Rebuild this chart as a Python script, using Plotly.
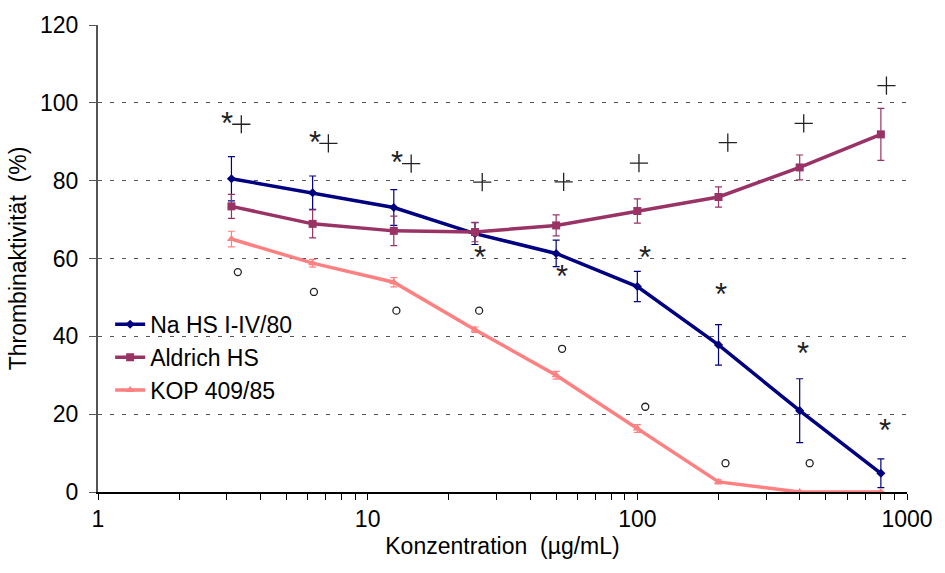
import math
import plotly.graph_objects as go

# Concentrations (µg/mL)
conc = [3.125, 6.25, 12.5, 25, 50, 100, 200, 400, 800]

# Thrombin activity (%) with standard deviations
na_hs = [80.5, 76.9, 73.1, 66.4, 61.3, 52.8, 37.8, 20.9, 4.8]
na_hs_sd = [5.7, 4.3, 4.6, 2.8, 3.4, 3.9, 5.2, 8.2, 3.7]

aldrich = [73.4, 68.9, 67.1, 66.8, 68.5, 72.2, 75.8, 83.4, 91.9]
aldrich_sd = [3.1, 3.6, 3.8, 2.5, 2.7, 3.1, 2.6, 3.2, 6.7]

kop = [65.0, 58.8, 53.9, 41.7, 30.0, 16.3, 2.6, 0.0, 0.0]
kop_sd = [2.0, 1.0, 1.2, 0.7, 1.0, 1.0, 0.5, 0.0, 0.0]

# Significance marks: (concentration, activity level)
star_x = [3.0, 6.36, 12.85, 26.0, 52.6, 106.4, 203.5, 411.6, 832]
star_y = [95.4, 90.5, 85.4, 61.0, 56.2, 61.0, 51.4, 36.4, 16.7]

plus_x = [3.40, 7.15, 14.5, 26.6, 53.3, 101.4, 216.5, 414, 839]
plus_y = [94.5, 89.6, 84.4, 79.6, 79.7, 84.5, 89.8, 94.7, 104.4]

circ_x = [3.30, 6.32, 12.78, 25.9, 52.6, 107, 212.3, 435.6]
circ_y = [56.5, 51.4, 46.6, 46.6, 36.8, 21.9, 7.4, 7.4]

# Log-axis ticks: labelled decades plus unlabelled 2..9 subdivisions
major_ticks = [1, 10, 100, 1000]
minor_ticks = [m * d for d in (1, 10, 100) for m in range(2, 10)]
all_ticks = sorted(major_ticks + minor_ticks)
all_labels = [str(t) if t in major_ticks else "" for t in all_ticks]

FONT = "Liberation Sans, Arial, sans-serif"
MARK = "#222222"

fig = go.Figure()

series = [
    ("Na HS I-IV/80", na_hs, na_hs_sd, "#000080", "diamond", 7),
    ("Aldrich HS", aldrich, aldrich_sd, "#993366", "square", 8),
    ("KOP 409/85", kop, kop_sd, "#FF8080", "triangle-up", 8),
]
for name, vals, sd, color, sym, msize in series:
    fig.add_trace(go.Scatter(
        x=conc, y=vals, name=name, mode="lines+markers",
        line=dict(color=color, width=3.5),
        marker=dict(symbol=sym, size=msize, color=color),
        error_y=dict(type="data", array=sd, visible=True,
                     color=color, thickness=1.2, width=3.5),
    ))

fig.add_trace(go.Scatter(
    x=plus_x, y=plus_y, mode="markers", showlegend=False, hoverinfo="skip",
    marker=dict(symbol="cross-thin-open", size=13, color=MARK,
                line=dict(color=MARK, width=1.3)),
))
fig.add_trace(go.Scatter(
    x=circ_x, y=circ_y, mode="markers", showlegend=False, hoverinfo="skip",
    marker=dict(symbol="circle-open", size=7, color=MARK,
                line=dict(color=MARK, width=1.3)),
))
for sx, sy in zip(star_x, star_y):
    fig.add_annotation(x=math.log10(sx), y=sy, text="*", showarrow=False,
                       font=dict(family=FONT, size=31, color=MARK),
                       yshift=-3)

fig.update_layout(
    width=945, height=573,
    margin=dict(l=98, r=30, t=24, b=81),
    paper_bgcolor="white", plot_bgcolor="white",
    font=dict(family=FONT, size=23, color="#000000"),
    showlegend=True,
    legend=dict(x=0.015, y=0.405, xanchor="left", yanchor="top",
                bgcolor="rgba(0,0,0,0)", font=dict(size=23),
                itemwidth=30, tracegroupgap=0),
    xaxis=dict(
        type="log", range=[0, 3],
        tickmode="array", tickvals=all_ticks, ticktext=all_labels,
        ticks="outside", ticklen=6, tickcolor="#000000", tickwidth=1.3,
        showline=True, linecolor="#000000", linewidth=1.5,
        showgrid=False, zeroline=False,
        title=dict(text="Konzentration \u00a0(µg/mL)", font=dict(size=23),
                   standoff=7),
    ),
    yaxis=dict(
        range=[0, 120], dtick=20,
        ticks="outside", ticklen=7, tickcolor="#555555", tickwidth=1.3,
        showline=True, linecolor="#555555", linewidth=2,
        showgrid=True, gridcolor="#555555", gridwidth=1, griddash="4px,8px",
        zeroline=False, ticklabelstandoff=6,
        title=dict(text="Thrombinaktivität \u00a0(%)", font=dict(size=23),
                   standoff=7),
    ),
)

fig.write_html("out.html")
